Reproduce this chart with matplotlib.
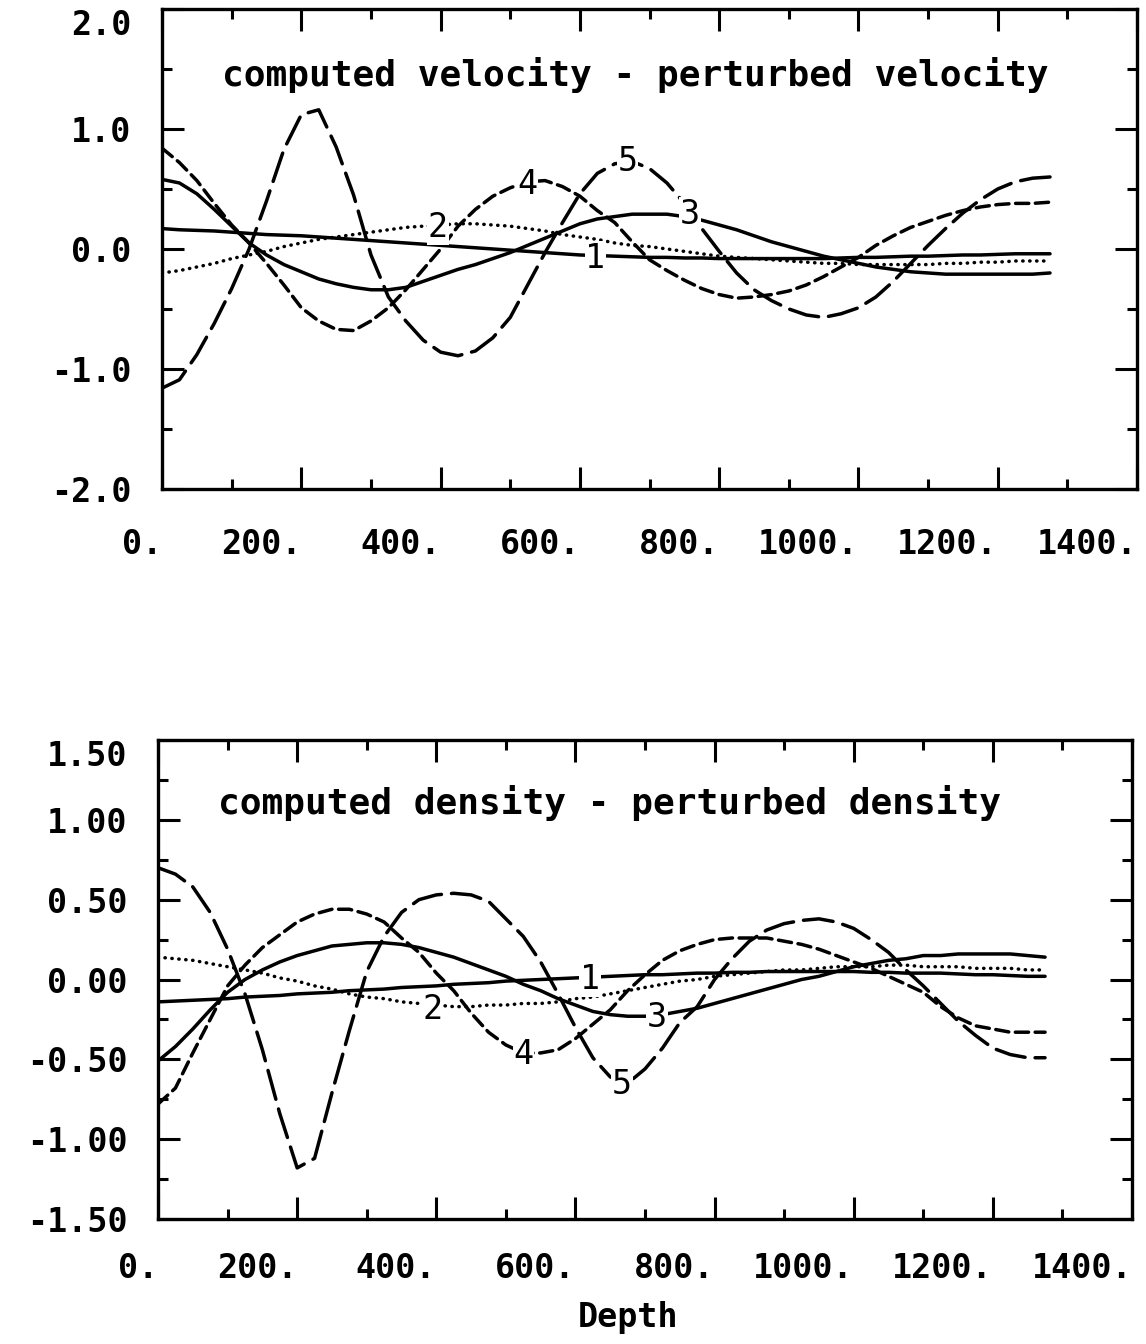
import matplotlib.pyplot as plt
import numpy as np

plt.rcParams["font.family"] = ["DejaVu Sans Mono"]

depth = np.arange(0, 1276, 25)

# upper panel: computed velocity - perturbed velocity
vel_1 = [0.17, 0.16, 0.155, 0.15, 0.14, 0.13, 0.12, 0.115, 0.11, 0.10, 0.09, 0.08, 0.07,
         0.06, 0.05, 0.04, 0.03, 0.02, 0.01, 0.0, -0.01, -0.02, -0.03, -0.04, -0.05, -0.055,
         -0.06, -0.065, -0.07, -0.07, -0.075, -0.075, -0.08, -0.08, -0.08, -0.08, -0.08, -0.08,
         -0.08, -0.075, -0.07, -0.07, -0.065, -0.06, -0.06, -0.055, -0.05, -0.05, -0.045,
         -0.04, -0.04, -0.04]
vel_2 = [-0.20, -0.18, -0.15, -0.12, -0.08, -0.05, -0.02, 0.02, 0.05, 0.08, 0.10, 0.12, 0.14,
         0.16, 0.18, 0.19, 0.20, 0.21, 0.21, 0.20, 0.19, 0.17, 0.15, 0.12, 0.10, 0.08,
         0.05, 0.03, 0.02, 0.00, -0.02, -0.04, -0.06, -0.07, -0.08, -0.09, -0.10, -0.11,
         -0.12, -0.12, -0.13, -0.13, -0.13, -0.13, -0.13, -0.12, -0.12, -0.11, -0.11,
         -0.10, -0.10, -0.10]
vel_3 = [0.58, 0.55, 0.46, 0.33, 0.19, 0.05, -0.05, -0.13, -0.19, -0.25, -0.29, -0.32, -0.34,
         -0.34, -0.32, -0.27, -0.22, -0.17, -0.13, -0.08, -0.03, 0.03, 0.09, 0.15, 0.21, 0.25,
         0.27, 0.29, 0.29, 0.29, 0.27, 0.24, 0.20, 0.16, 0.11, 0.06, 0.02, -0.02,
         -0.06, -0.09, -0.12, -0.15, -0.17, -0.19, -0.20, -0.21, -0.21, -0.21, -0.21,
         -0.21, -0.21, -0.20]
vel_4 = [0.84, 0.72, 0.57, 0.38, 0.20, 0.05, -0.12, -0.30, -0.49, -0.60, -0.67, -0.68, -0.60,
         -0.49, -0.34, -0.17, 0.0, 0.19, 0.33, 0.44, 0.51, 0.56, 0.57, 0.52, 0.44, 0.32,
         0.22, 0.06, -0.09, -0.18, -0.26, -0.33, -0.38, -0.41, -0.40, -0.38, -0.35, -0.30,
         -0.23, -0.15, -0.07, 0.03, 0.11, 0.18, 0.23, 0.28, 0.32, 0.35, 0.37,
         0.38, 0.38, 0.39]
vel_5 = [-1.16, -1.09, -0.88, -0.62, -0.33, 0.0, 0.40, 0.83, 1.12, 1.16, 0.85, 0.45, -0.05,
         -0.40, -0.60, -0.76, -0.86, -0.89, -0.85, -0.74, -0.57, -0.30, -0.03, 0.22, 0.46, 0.63,
         0.71, 0.73, 0.67, 0.55, 0.38, 0.17, -0.02, -0.20, -0.34, -0.43, -0.50, -0.55,
         -0.57, -0.54, -0.49, -0.40, -0.27, -0.12, 0.03, 0.17, 0.30, 0.41, 0.50,
         0.56, 0.59, 0.60]

# lower panel: computed density - perturbed density
den_1 = [-0.14, -0.135, -0.13, -0.125, -0.12, -0.11, -0.105, -0.10, -0.09, -0.085, -0.08,
         -0.07, -0.065, -0.06, -0.05, -0.045, -0.04, -0.03, -0.025, -0.02, -0.01, -0.005,
         0.0, 0.005, 0.01, 0.015, 0.02, 0.025, 0.03, 0.03, 0.035, 0.04, 0.04, 0.045, 0.045,
         0.05, 0.05, 0.05, 0.05, 0.05, 0.05, 0.045, 0.045, 0.04, 0.04, 0.04, 0.035, 0.03,
         0.03, 0.025, 0.02, 0.02]
den_2 = [0.14, 0.13, 0.12, 0.10, 0.08, 0.06, 0.04, 0.01, -0.01, -0.04, -0.06, -0.09, -0.11,
         -0.12, -0.14, -0.15, -0.16, -0.17, -0.17, -0.16, -0.16, -0.15, -0.15, -0.14, -0.12,
         -0.11, -0.09, -0.07, -0.05, -0.03, -0.01, 0.00, 0.02, 0.03, 0.04, 0.05, 0.06, 0.06,
         0.07, 0.08, 0.08, 0.08, 0.09, 0.09, 0.08, 0.08, 0.08, 0.07, 0.07, 0.07, 0.06, 0.06]
den_3 = [-0.51, -0.42, -0.31, -0.19, -0.08, 0.00, 0.06, 0.11, 0.15, 0.18, 0.21, 0.22, 0.23,
         0.23, 0.22, 0.20, 0.17, 0.14, 0.10, 0.06, 0.02, -0.03, -0.07, -0.12, -0.16, -0.20,
         -0.22, -0.23, -0.23, -0.22, -0.20, -0.18, -0.15, -0.12, -0.09, -0.06, -0.03, 0.00,
         0.02, 0.05, 0.08, 0.10, 0.12, 0.13, 0.15, 0.15, 0.16, 0.16, 0.16, 0.16, 0.15, 0.14]
den_4 = [-0.78, -0.68, -0.46, -0.25, -0.04, 0.09, 0.20, 0.28, 0.36, 0.41, 0.44, 0.44, 0.41,
         0.36, 0.26, 0.17, 0.04, -0.07, -0.21, -0.33, -0.41, -0.46, -0.46, -0.44, -0.37, -0.28,
         -0.19, -0.07, 0.03, 0.12, 0.18, 0.22, 0.25, 0.26, 0.26, 0.26, 0.24, 0.22,
         0.19, 0.15, 0.11, 0.07, 0.02, -0.03, -0.08, -0.17, -0.24, -0.29, -0.31, -0.33,
         -0.33, -0.33]
den_5 = [0.70, 0.66, 0.58, 0.42, 0.19, -0.09, -0.44, -0.84, -1.18, -1.12, -0.71, -0.32, 0.05,
         0.27, 0.42, 0.50, 0.53, 0.54, 0.53, 0.49, 0.38, 0.27, 0.11, -0.09, -0.30, -0.49,
         -0.61, -0.65, -0.56, -0.43, -0.27, -0.17, 0.0, 0.13, 0.24, 0.31, 0.35, 0.37,
         0.38, 0.36, 0.32, 0.25, 0.17, 0.06, -0.04, -0.15, -0.26, -0.35, -0.43, -0.47,
         -0.49, -0.49]

styles = ["-", (0, (0.1, 1.9)), "-", (0, (3.8, 1.9)), (0, (8.6, 2.9))]

# curve number labels (depth, value)
vel_label_pos = [(622, -0.08), (396, 0.18), (758, 0.29), (524, 0.54), (668, 0.73)]
den_label_pos = [(621, 0.0), (394, -0.19), (717, -0.24), (525, -0.47), (667, -0.66)]

x_major = np.arange(0, 1401, 200)
x_minor = np.arange(100, 1400, 200)
x_labels = ["%d." % v for v in x_major]


def style_axes(ax, label_pad):
    ax.set_xlim(0, 1400)
    ax.set_xticks(x_major)
    ax.set_xticks(x_minor, minor=True)
    ax.set_xticklabels(x_labels, ha="right")
    for s in ax.spines.values():
        s.set_linewidth(2.4)
    ax.tick_params(which="both", direction="in", top=True, right=True, width=2.2)
    ax.tick_params(which="major", length=16)
    ax.tick_params(which="minor", length=7)
    ax.tick_params(axis="x", which="major", pad=label_pad, labelsize=24)
    ax.tick_params(axis="y", which="major", pad=22, labelsize=24)
    for t in ax.get_xticklabels() + ax.get_yticklabels():
        t.set_fontweight("bold")


def draw_curves(ax, series, label_pos):
    for vals, ls, (lx, ly), num in zip(series, styles, label_pos, "12345"):
        ax.plot(depth, vals, color="black", lw=2.5, linestyle=ls,
                solid_capstyle="round", dash_capstyle="round",
                solid_joinstyle="round")
        ax.text(lx, ly, num, ha="center", va="center", fontsize=24,
                bbox=dict(facecolor="white", edgecolor="none", pad=0.5))


fig = plt.figure(figsize=(11.46, 13.44), dpi=100)

ax1 = fig.add_axes([0.1414, 0.6362, 0.8508, 0.3571])
draw_curves(ax1, [vel_1, vel_2, vel_3, vel_4, vel_5], vel_label_pos)
ax1.set_ylim(-2.0, 2.0)
ax1.set_yticks([-2, -1, 0, 1, 2])
ax1.set_yticks(np.arange(-1.5, 2.0, 1.0), minor=True)
ax1.set_yticklabels(["-2.0", "-1.0", "0.0", "1.0", "2.0"])
style_axes(ax1, 28)
ax1.get_yticklabels()[-1].set_verticalalignment("top")
ax1.text(0.485, 0.8625, "computed velocity - perturbed velocity", transform=ax1.transAxes,
         ha="center", va="center", fontsize=26, fontweight="bold")

ax2 = fig.add_axes([0.1379, 0.0930, 0.8499, 0.3564])
draw_curves(ax2, [den_1, den_2, den_3, den_4, den_5], den_label_pos)
ax2.set_ylim(-1.5, 1.5)
ax2.set_yticks(np.arange(-1.5, 1.51, 0.5))
ax2.set_yticks(np.arange(-1.25, 1.5, 0.5), minor=True)
ax2.set_yticklabels(["-1.50", "-1.00", "-0.50", "0.00", "0.50", "1.00", "1.50"])
style_axes(ax2, 24)
ax2.get_yticklabels()[-1].set_verticalalignment("top")
ax2.text(0.464, 0.868, "computed density - perturbed density", transform=ax2.transAxes,
         ha="center", va="center", fontsize=26, fontweight="bold")

fig.text(628 / 1146, 1 - 1318 / 1344, "Depth", ha="center", va="center",
         fontsize=24, fontweight="bold")

fig.savefig("out.png", dpi=100)
